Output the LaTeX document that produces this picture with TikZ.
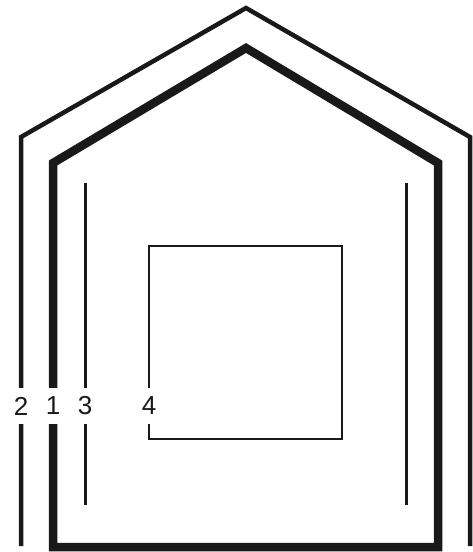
\documentclass[tikz,border=0pt]{standalone}
\usepackage{fontspec}
\setmainfont{Liberation Sans}
\usetikzlibrary{positioning}
\definecolor{ink}{rgb}{0.1,0.1,0.1}
\tikzset{
  roof/.style={
    draw=ink,
    line width=4.5pt,
    line join=miter
  },
  wall/.style={
    draw=ink,
    line width=8.5pt,
    line join=miter
  },
  lining/.style={
    draw=ink,
    line width=3pt
  },
  room/.style={
    draw=ink,
    line width=1.5pt
  },
  tag/.style={
    fill=white,
    text=ink,
    inner xsep=2pt,
    inner ysep=9pt,
    font=\fontsize{26}{30}\selectfont
  }
}

\begin{document}
\begin{tikzpicture}[x=1pt,y=-1pt]
\useasboundingbox (0,0) rectangle (473,552);
% outer line
\draw[roof] (21,546) -- (21,137) -- (246,8) -- (470,137) -- (470,546);
% wall
\draw[wall] (53,547) -- (53,163) -- (246,48) -- (438,163) -- (438,547) -- cycle;
% inner lining
\draw[lining] (85,183) -- (85,505);
\draw[lining] (406,183) -- (406,505);
% room
\draw[room] (149,246) rectangle (342,439);
% labels
\node[tag] (two) at (21,406) {2};
\node[tag] (one) at (53,406) {1};
\node[tag] (three) at (85,406) {3};
\node[tag] (four) at (149,406) {4};
\end{tikzpicture}
\end{document}
